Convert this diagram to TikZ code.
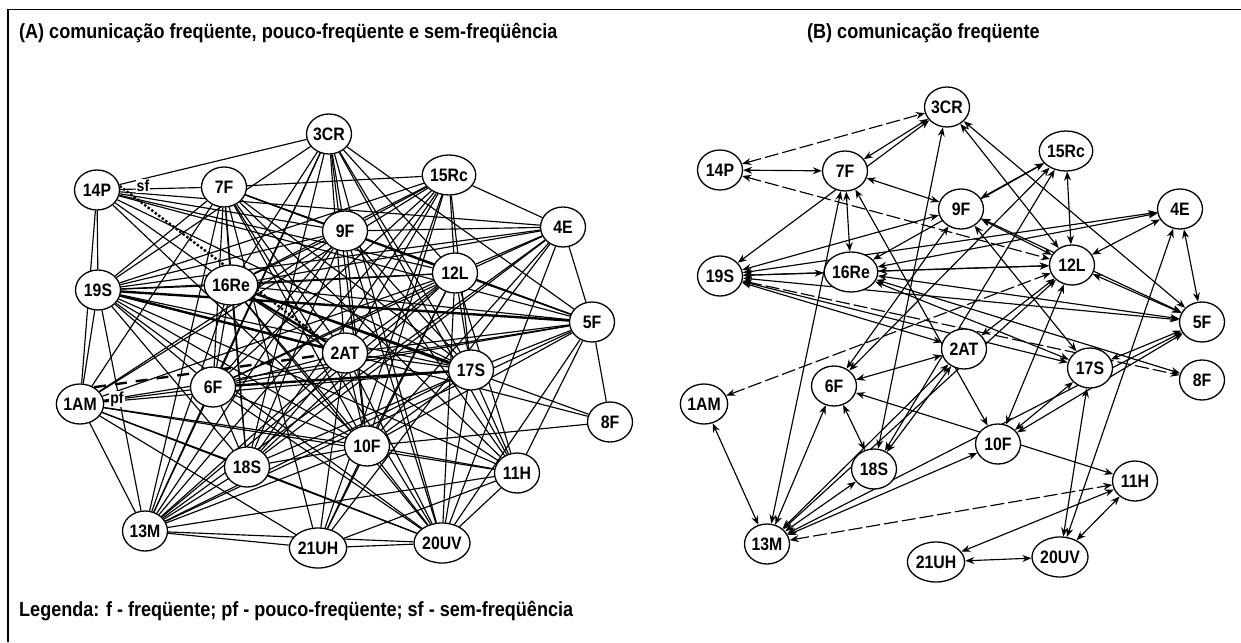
\documentclass[tikz,border=0pt]{standalone}
\usepackage{fontspec}
\setmainfont{Liberation Sans}
\newfontfamily\condsans{Liberation Sans}[FakeStretch=0.88]
\usetikzlibrary{shapes.geometric,arrows.meta}
\pgfdeclarelayer{edges}
\pgfsetlayers{edges,main}
\begin{document}
\begin{tikzpicture}[x=1pt,y=-1pt,
  vtx/.style={ellipse,draw,line width=1.3pt,fill=white,minimum width=45pt,minimum height=40pt,inner sep=0pt,font=\condsans\fontsize{18}{18}\selectfont\bfseries},
  lnk/.style={line width=1.15pt},
  heavy/.style={line width=2.4pt},
  sfline/.style={line width=2.4pt,dotted},
  pfline/.style={line width=2.4pt,dash pattern=on 12pt off 9pt},
  dir/.style={line width=1.15pt,{Stealth[length=9pt,width=7pt]}-{Stealth[length=9pt,width=7pt]}},
  brk/.style={dir,dash pattern=on 14pt off 4pt},
  ttl/.style={anchor=west,font=\condsans\fontsize{20.5}{20.5}\selectfont\bfseries,inner sep=0pt},
  tag/.style={font=\condsans\fontsize{16}{16}\selectfont\bfseries,inner sep=1pt,fill=white}]
\useasboundingbox (0,0) rectangle (1241,642);
\draw[line width=1.6pt] (8,642) -- (8,9.5) -- (1241,9.5);

\node[ttl] (ttlA) at (19,33) {(A) comunicação freqüente, pouco-freqüente e sem-freqüência};
\node[ttl] (ttlB) at (807,33) {(B) comunicação freqüente};
\node[ttl] (leg) at (19,611) {Legenda: f - freqüente; pf - pouco-freqüente; sf - sem-freqüência};

% ---------- network A ----------
\node[vtx] (a3CR)  at (329,134) {3CR};
\node[vtx] (a14P)  at (97,190)  {14P};
\node[vtx] (a7F)   at (224,187) {7F};
\node[vtx] (a15Rc) at (449,175) {15Rc};
\node[vtx] (a4E)   at (563,227) {4E};
\node[vtx] (a9F)   at (345,231) {9F};
\node[vtx] (a19S)  at (98,290)  {19S};
\node[vtx] (a16Re) at (231,285) {16Re};
\node[vtx] (a12L)  at (455,273) {12L};
\node[vtx] (a5F)   at (592,322) {5F};
\node[vtx] (a2AT)  at (345,353) {2AT};
\node[vtx] (a17S)  at (471,370) {17S};
\node[vtx] (a1AM)  at (80,404)  {1AM};
\node[vtx] (a6F)   at (213,387) {6F};
\node[vtx] (a8F)   at (610,422) {8F};
\node[vtx] (a10F)  at (367,446) {10F};
\node[vtx] (a18S)  at (247,467) {18S};
\node[vtx] (a11H)  at (517,473) {11H};
\node[vtx] (a13M)  at (145,531) {13M};
\node[vtx] (a21UH) at (318,548) {21UH};
\node[vtx] (a20UV) at (442,543) {20UV};

\begin{pgfonlayer}{edges}
\foreach \u/\v in {
  3CR/14P,3CR/9F,3CR/16Re,3CR/6F,3CR/12L,3CR/5F,3CR/17S,3CR/2AT,3CR/13M,3CR/10F,3CR/18S,3CR/19S,3CR/20UV,3CR/11H,
  14P/7F,14P/19S,14P/16Re,14P/12L,14P/5F,14P/17S,14P/10F,14P/1AM,14P/4E,14P/9F,
  7F/15Rc,7F/9F,7F/16Re,7F/12L,7F/5F,7F/17S,7F/2AT,7F/6F,7F/13M,7F/18S,7F/10F,7F/11H,7F/20UV,7F/21UH,7F/19S,7F/1AM,
  15Rc/4E,15Rc/9F,15Rc/16Re,15Rc/19S,15Rc/6F,15Rc/18S,15Rc/13M,15Rc/12L,15Rc/2AT,15Rc/17S,15Rc/10F,15Rc/1AM,15Rc/21UH,
  4E/9F,4E/12L,4E/5F,4E/16Re,4E/19S,4E/6F,4E/10F,4E/13M,4E/20UV,4E/21UH,4E/18S,
  9F/19S,9F/16Re,9F/12L,9F/5F,9F/17S,9F/6F,9F/13M,9F/18S,9F/10F,9F/20UV,9F/1AM,9F/11H,
  19S/16Re,19S/17S,19S/8F,19S/12L,19S/13M,19S/18S,19S/6F,19S/1AM,19S/10F,19S/20UV,19S/11H,
  16Re/12L,16Re/5F,16Re/8F,16Re/6F,16Re/13M,16Re/10F,16Re/20UV,16Re/11H,16Re/18S,
  12L/5F,12L/17S,12L/2AT,12L/6F,12L/13M,12L/18S,12L/10F,12L/20UV,12L/11H,12L/1AM,12L/21UH,
  5F/8F,5F/17S,5F/2AT,5F/6F,5F/13M,5F/10F,5F/20UV,5F/1AM,5F/11H,
  2AT/17S,2AT/6F,2AT/18S,2AT/13M,2AT/10F,2AT/20UV,2AT/21UH,
  17S/10F,17S/11H,17S/20UV,17S/13M,17S/18S,17S/1AM,
  6F/1AM,6F/18S,6F/13M,6F/10F,6F/20UV,
  1AM/13M,1AM/18S,1AM/10F,1AM/21UH,1AM/20UV,1AM/11H,
  18S/13M,18S/10F,18S/20UV,
  10F/13M,10F/11H,10F/20UV,10F/21UH,10F/8F,
  13M/21UH,13M/20UV,13M/11H,
  21UH/20UV,21UH/11H,20UV/11H}
  \draw[lnk] (a\u) -- (a\v);
\draw[heavy] (a19S) -- (a5F);
\draw[heavy] (a19S) -- (a2AT);
\draw[heavy] (a16Re) -- (a2AT);
\draw[heavy] (a16Re) -- (a17S);
\draw[heavy] (a6F) -- (a17S);
\draw[sfline] (a14P.10) -- (a2AT.150);
\draw[pfline] (a1AM.50) -- (a2AT.185);
\end{pgfonlayer}
\node[tag] (sfA) at (143,186) {sf};
\node[tag] (pfA) at (117,399) {pf};

% ---------- network B ----------
\node[vtx] (b3CR)  at (947,107) {3CR};
\node[vtx] (b14P)  at (720,170) {14P};
\node[vtx] (b7F)   at (845,171) {7F};
\node[vtx] (b15Rc) at (1066,151) {15Rc};
\node[vtx] (b9F)   at (961,209) {9F};
\node[vtx] (b4E)   at (1180,209) {4E};
\node[vtx] (b19S)  at (720,276) {19S};
\node[vtx] (b16Re) at (851,272) {16Re};
\node[vtx] (b12L)  at (1072,265) {12L};
\node[vtx] (b5F)   at (1202,322) {5F};
\node[vtx] (b2AT)  at (964,349) {2AT};
\node[vtx] (b17S)  at (1090,368) {17S};
\node[vtx] (b8F)   at (1202,380) {8F};
\node[vtx] (b1AM)  at (704,404) {1AM};
\node[vtx] (b6F)   at (834,386) {6F};
\node[vtx] (b10F)  at (998,444) {10F};
\node[vtx] (b18S)  at (874,469) {18S};
\node[vtx] (b11H)  at (1135,481) {11H};
\node[vtx] (b13M)  at (767,544) {13M};
\node[vtx] (b21UH) at (936,562) {21UH};
\node[vtx] (b20UV) at (1060,557) {20UV};

\begin{pgfonlayer}{edges}
\foreach \u/\v in {
  14P/7F,7F/3CR,7F/9F,7F/10F,7F/13M,7F/16Re,
  3CR/19S,3CR/18S,3CR/12L,3CR/5F,
  15Rc/12L,15Rc/6F,15Rc/18S,15Rc/9F,15Rc/16Re,
  4E/5F,4E/12L,4E/16Re,4E/19S,4E/20UV,
  12L/10F,12L/5F,12L/16Re,12L/19S,12L/9F,12L/2AT,12L/13M,
  9F/19S,9F/6F,9F/17S,9F/5F,
  16Re/19S,16Re/5F,16Re/8F,16Re/17S,
  19S/5F,19S/2AT,19S/17S,
  5F/17S,5F/10F,5F/13M,
  17S/10F,17S/20UV,
  2AT/6F,2AT/18S,2AT/13M,
  6F/11H,6F/18S,6F/13M,
  1AM/13M,18S/13M,10F/13M,
  11H/20UV,11H/21UH,21UH/20UV}
  \draw[dir] (b\u) -- (b\v);
\foreach \u/\v in {14P/3CR,14P/12L,1AM/12L,19S/8F,13M/11H}
  \draw[brk] (b\u) -- (b\v);
\end{pgfonlayer}
\end{tikzpicture}
\end{document}
